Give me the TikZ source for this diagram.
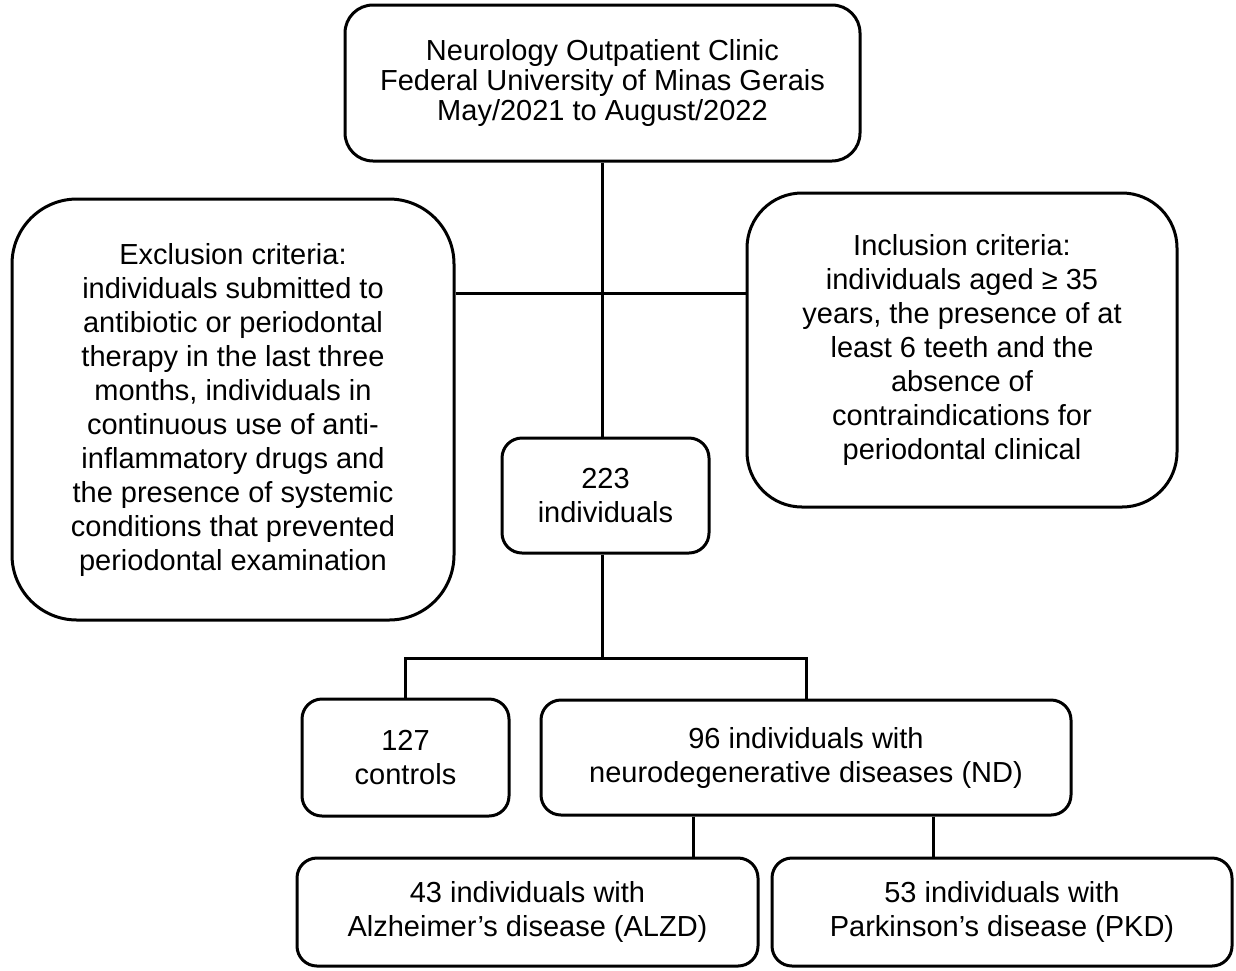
\documentclass[tikz,border=0pt]{standalone}
\usepackage{fontspec}
\setmainfont{Liberation Sans}

\begin{document}
\begin{tikzpicture}[x=1pt, y=-1pt, line width=3pt,
    box/.style={draw, rounded corners=20pt, align=center, inner sep=0pt, font=\fontsize{29}{34}\selectfont}]
    \useasboundingbox (0,0) rectangle (1236,970);
    % boxes
    \node[box, rounded corners=28pt, minimum width=515, minimum height=156, font=\fontsize{29}{30}\selectfont] (clinic) at (602.5,83)
        {Neurology Outpatient Clinic\\Federal University of Minas Gerais\\May/2021 to August/2022};
    \node[box, rounded corners=65pt, minimum width=442, minimum height=421] (excl) at (233,409.5)
        {Exclusion criteria:\\individuals submitted to\\antibiotic or periodontal\\therapy in the last three\\months, individuals in\\continuous use of anti-\\inflammatory drugs and\\the presence of systemic\\conditions that prevented\\periodontal examination};
    \node[box, rounded corners=55pt, minimum width=430, minimum height=314] (incl) at (962,350)
        {Inclusion criteria:\\individuals aged ≥ 35\\years, the presence of at\\least 6 teeth and the\\absence of\\contraindications for\\periodontal clinical};
    \node[box, minimum width=207, minimum height=115] (total) at (605.5,495.5) {223\\individuals};
    \node[box, minimum width=207, minimum height=117] (ctrl) at (405.5,757.5) {127\\controls};
    \node[box, minimum width=530, minimum height=115] (nd) at (806,757.5)
        {96 individuals with\\neurodegenerative diseases (ND)};
    \node[box, minimum width=461, minimum height=108] (alzd) at (527.5,912)
        {43 individuals with\\Alzheimer’s disease (ALZD)};
    \node[box, minimum width=460, minimum height=108] (pkd) at (1002,912)
        {53 individuals with\\Parkinson’s disease (PKD)};
    % connectors
    \coordinate (hub) at (602,293);
    \coordinate (split) at (602,658);
    \coordinate (tapA) at (693,0);
    \coordinate (tapP) at (933,0);
    \draw (clinic.south -| hub) -- (total.north -| hub);
    \draw (excl.east |- hub) -- (incl.west |- hub);
    \draw (total.south -| split) -- (split);
    \draw (ctrl.north) |- (split) -| (nd.north);
    \draw (nd.south -| tapA) -- (alzd.north -| tapA);
    \draw (nd.south -| tapP) -- (pkd.north -| tapP);
\end{tikzpicture}
\end{document}
